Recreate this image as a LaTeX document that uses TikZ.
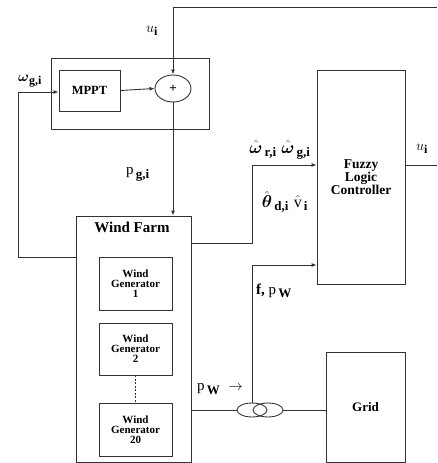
\documentclass[tikz,border=0pt]{standalone}
\usepackage{amsmath}
\usepackage{fontspec}
\setmainfont{Liberation Serif}
\usetikzlibrary{arrows.meta,shapes.geometric}
\newcommand{\sbb}[1]{_{\text{\fontsize{12}{12}\selectfont\bfseries #1}}}
\newcommand{\sbbb}[1]{_{\text{\fontsize{13}{13}\selectfont\bfseries\,#1}}}
\begin{document}
\begin{tikzpicture}[x=1pt,y=-1pt,
  ln/.style={draw=black!80,line width=0.9pt},
  arr/.style={ln,-{Latex[length=5pt,width=4pt]}},
  blk/.style={ln,rectangle,inner sep=0pt,font=\bfseries,align=center},
  ell/.style={ln,ellipse,inner sep=0pt},
  lbl/.style={inner sep=0pt,font=\bfseries\fontsize{15}{15}\selectfont},
  gen/.style={blk,minimum width=73pt,font=\bfseries\fontsize{11}{10}\selectfont}
]
\useasboundingbox (0,0) rectangle (437,463);
% group box around MPPT and summer
\node[blk,minimum width=158pt,minimum height=71pt] (grp) at (130,93.5) {};
\node[blk,minimum width=61pt,minimum height=41pt,font=\bfseries\fontsize{12.5}{13}\selectfont] (mppt) at (89.5,90.5) {MPPT};
\node[ell,minimum width=36pt,minimum height=27pt,font=\bfseries\fontsize{13}{13}\selectfont] (sum) at (173,88.5) {+};
% wind farm
\node[blk,minimum width=115pt,minimum height=246pt] (wf) at (133.5,339) {};
\node[inner sep=0pt,font=\bfseries\fontsize{15}{15}\selectfont] (wft) at (132,227) {Wind Farm};
\node[gen,minimum height=53pt] (g1) at (135.5,283.5) {Wind\\Generator\\1};
\node[gen,minimum height=52pt] (g2) at (135.5,349) {Wind\\Generator\\2};
\node[gen,minimum height=53pt] (g20) at (135.5,429.5) {Wind\\Generator\\20};
% controller and grid
\node[blk,minimum width=88pt,minimum height=214pt,font=\bfseries\fontsize{13.5}{11.5}\selectfont] (flc) at (361,177) {Fuzzy\\Logic\\Controller};
\node[blk,minimum width=79pt,minimum height=110pt,font=\bfseries\fontsize{13}{13}\selectfont] (grid) at (365.5,407) {Grid};
% transformer
\node[ell,minimum width=30pt,minimum height=14pt] (t1) at (252,410) {};
\node[ell,minimum width=30pt,minimum height=14pt] (t2) at (268,410) {};
% free-end coordinates
\coordinate (topR) at (437,7);
\coordinate (outR) at (437,165);
\coordinate (fbL) at (18,92);
% connectors
\draw[arr] (topR) -| (sum.north);
\draw[arr] (mppt.east) -- (sum.west);
\draw[arr] (sum.south) -- (sum.south |- wf.north);
\draw[arr] (wf.west |- 0,257) -| (fbL) -- (mppt.west |- fbL);
\draw[arr] (wf.east |- 0,243) -| (252,165) -- (flc.west |- 0,165);
\draw[arr] (t1.north) |- (flc.west |- 0,265);
\draw[ln] (wf.east |- t1.west) -- (t1.west);
\draw[ln] (t2.east) -- (grid.west |- t2.east);
\draw[ln] (flc.east |- outR) -- (outR);
\draw[ln,dashed,dash pattern=on 2pt off 1.5pt] (g2.south) -- (g20.north);
% labels
\node[lbl] (lu) at (152,31) {$u\sbb{i}$};
\node[lbl] (lw) at (30,81) {$\boldsymbol{\omega}\sbb{g,i}$};
\node[lbl] (lp) at (138,174) {$\mathrm{p}\sbbb{g,i}$};
\node[lbl,font=\bfseries\fontsize{16}{16}\selectfont] (lw2) at (280,150) {$\hat{\boldsymbol{\omega}}\sbbb{r,i}\;\hat{\boldsymbol{\omega}}\sbbb{g,i}$};
\node[lbl,font=\bfseries\fontsize{16}{16}\selectfont] (lth) at (285,202) {$\hat{\boldsymbol{\theta}}\sbbb{d,i}\;\hat{\mathrm{v}}\sbbb{i}$};
\node[lbl] (lf) at (274,291) {f, $\mathrm{p}\sbbb{W}$};
\node[lbl] (lpw) at (220,389) {$\mathrm{p}\sbbb{W}\;\rightarrow$};
\node[lbl] (lu2) at (422,149) {$u\sbb{i}$};
\end{tikzpicture}
\end{document}
